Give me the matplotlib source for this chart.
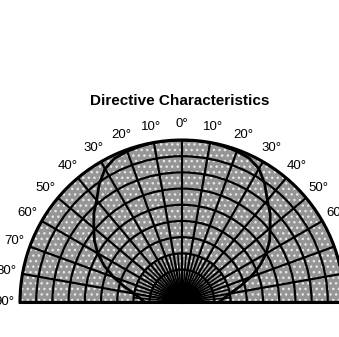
import numpy as np
import matplotlib
matplotlib.use('Agg')
import matplotlib.pyplot as plt

plt.rcParams['font.family'] = ['Liberation Sans', 'DejaVu Sans']
plt.rcParams['hatch.color'] = '#e8e8e8'
plt.rcParams['hatch.linewidth'] = 1.0

# directive pattern (degrees from axis, relative level), symmetric both sides
ang = [0, 5, 10, 15, 20, 25, 30, 35, 40, 45, 50, 55, 60, 65, 70, 75, 80, 85, 90]
lev = [1.0, 1.0, 1.0, 0.995, 0.99, 0.98, 0.95, 0.89, 0.82, 0.77, 0.71, 0.66,
       0.60, 0.53, 0.45, 0.37, 0.30, 0.26, 0.23]

grid_ang = list(range(-90, 91, 10))
grid_lab = [f"{abs(a)}°" for a in grid_ang]
rings = [0.1, 0.2, 0.3, 0.4, 0.5, 0.6, 0.7, 0.8, 0.9, 1.0]

fig = plt.figure(figsize=(3.39, 3.37), dpi=100)
# half wedge sits in the middle of a square box
ax = fig.add_axes([20/339, -46/337, 324/339, 324/337], projection='polar')
ax.set_theta_zero_location('N')
ax.set_theta_direction(-1)
ax.set_thetamin(-90)
ax.set_thetamax(90)
ax.set_ylim(0, 1)

ax.patch.set_facecolor('#999999')
tt = np.radians(np.linspace(-90, 90, 181))
ax.fill_between(tt, 0, 1, facecolor='#959595', edgecolor='#e8e8e8', lw=0,
                hatch='...', zorder=0)

ax.set_thetagrids(grid_ang, grid_lab, fontsize=9.5)
ax.set_rgrids(rings, [''] * len(rings))
ax.grid(True, color='black', lw=1.6)
ax.tick_params(axis='x', pad=1)
for s in ax.spines.values():
    s.set_linewidth(2.2)
    s.set_color('black')

# extra spokes in the centre
for a in np.arange(-85, 90, 10):
    ax.plot([np.radians(a)] * 2, [0, 0.3], color='black', lw=1.2)
for a in np.arange(-87.5, 90, 5):
    ax.plot([np.radians(a)] * 2, [0, 0.12], color='black', lw=0.9)

th = np.radians(np.array([-a for a in ang[::-1]] + ang[1:]))
rr = np.array(lev[::-1] + lev[1:])
ax.plot(th, rr, color='black', lw=2.0)

fig.text(180/339, 1 - 101/337, 'Directive Characteristics', ha='center',
         va='center', fontsize=11, fontweight='bold')

fig.savefig('out.png', dpi=100)
